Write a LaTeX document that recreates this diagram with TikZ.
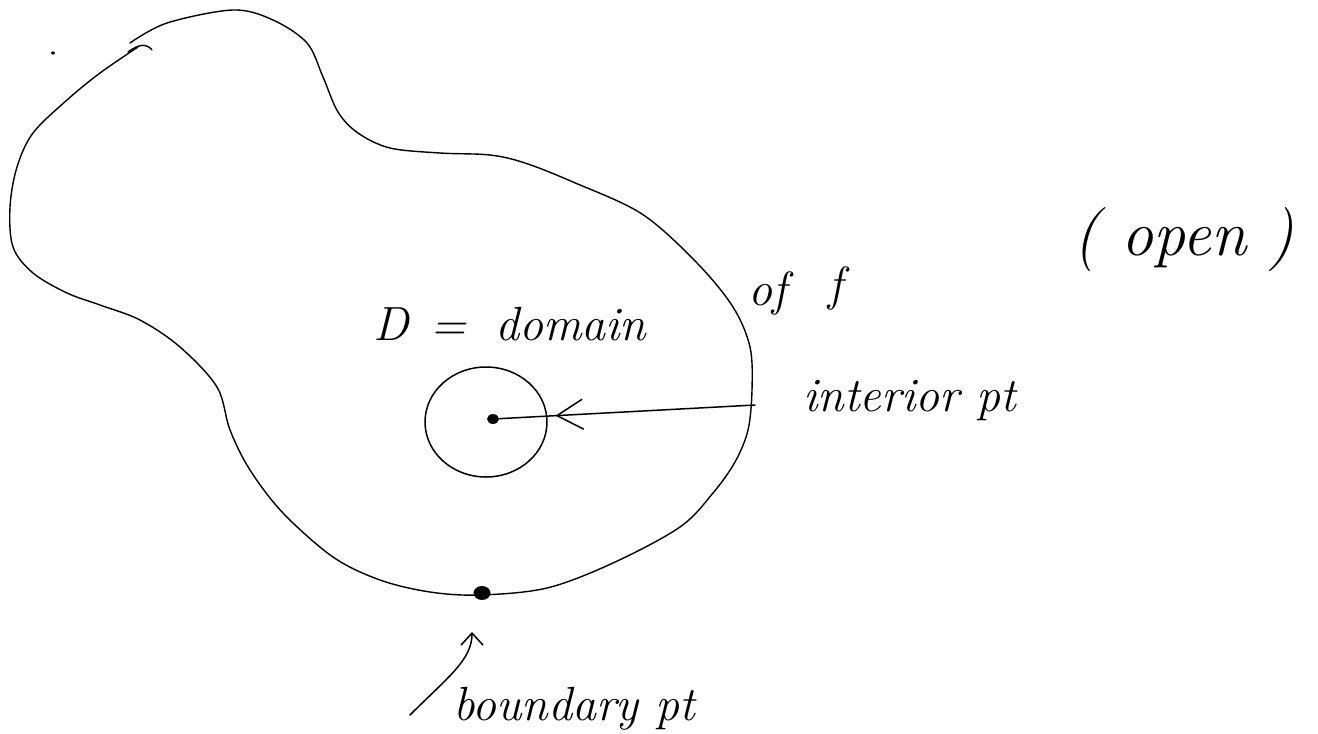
\documentclass[tikz,border=0pt]{standalone}
\usepackage{tikz}
\usetikzlibrary{arrows.meta, decorations.markings, shapes.geometric}

\begin{document}
\begin{tikzpicture}[
  x=1pt, y=-1pt,
  every node/.style={font=\fontsize{48}{54}\selectfont\itshape, inner sep=0pt},
  blob/.style={line width=1.4pt, line join=round, line cap=round},
  pen/.style={line width=1.5pt, line cap=round},
  dotpt/.style={fill=black, ellipse, inner sep=0pt, minimum width=#1, minimum height=0.82*#1}
]

\useasboundingbox (0,0) rectangle (1318,734);

%% ── stray dot top left ──────────────────────────────────────────────────────
\node[dotpt=4pt] (stray) at (53,53) {};

%% ── the domain D (hand drawn, not quite closed) ─────────────────────────────
\draw[blob] plot[smooth, tension=0.55] coordinates {
  (130,43) (167,23) (233,10) (273,20) (307,43) (323,77) (338,112)
  (358,133) (390,148) (440,153) (490,155) (525,163) (573,182)
  (642,214) (697,263) (733,307) (750,347) (752,390) (748,430)
  (735,462) (713,493) (680,527) (613,563) (547,588) (480,595)
  (430,592) (380,580) (333,557) (283,513) (250,470) (230,430)
  (217,387) (180,347) (140,320) (100,305) (67,293) (33,273)
  (13,247) (10,207) (17,167) (33,133) (67,100) (100,73) (138,47)
};
\draw[blob] (128,52) .. controls (140,43) and (147,44) .. (152,50);

%% ── interior point and its little disc ──────────────────────────────────────
\draw[pen] (486,422) ellipse[x radius=61, y radius=55];
\node[dotpt=12pt] (ipt) at (493,419) {};

%% ── boundary point ──────────────────────────────────────────────────────────
\node[dotpt=17pt] (bpt) at (482,593) {};

%% ── labels ───────────────────────────────────────────────────────────────────
\node[anchor=base west] (dom) at (373,340) {D\hspace{0.45em}=\hspace{0.6em}domain};
\node[anchor=base west] (ofw) at (748,305) {of};
\node[anchor=base west] (fsym) at (828,300) {f};
\node[anchor=base west] (intlbl) at (803,411) {interior pt};
\node[font=\fontsize{64}{70}\selectfont\itshape] (openlbl) at (1184,240) {( open )};
\node[anchor=base west] (bdlbl) at (453,720) {boundary pt};

%% ── arrows ───────────────────────────────────────────────────────────────────
\coordinate (istart) at (755,405);
\draw[pen, postaction={decorate}, decoration={markings,
    mark=at position 0.78 with {\arrow{Straight Barb[length=26pt, width=30pt, line width=1.5pt]}}}]
  (istart) -- (ipt);

\coordinate (bstart) at (410,715);
\coordinate (btip) at (472,632);
\draw[pen, -{Straight Barb[length=12pt, width=22pt]}]
  (bstart) .. controls +(38,-38) and +(0,28) .. (btip);

\end{tikzpicture}
\end{document}
